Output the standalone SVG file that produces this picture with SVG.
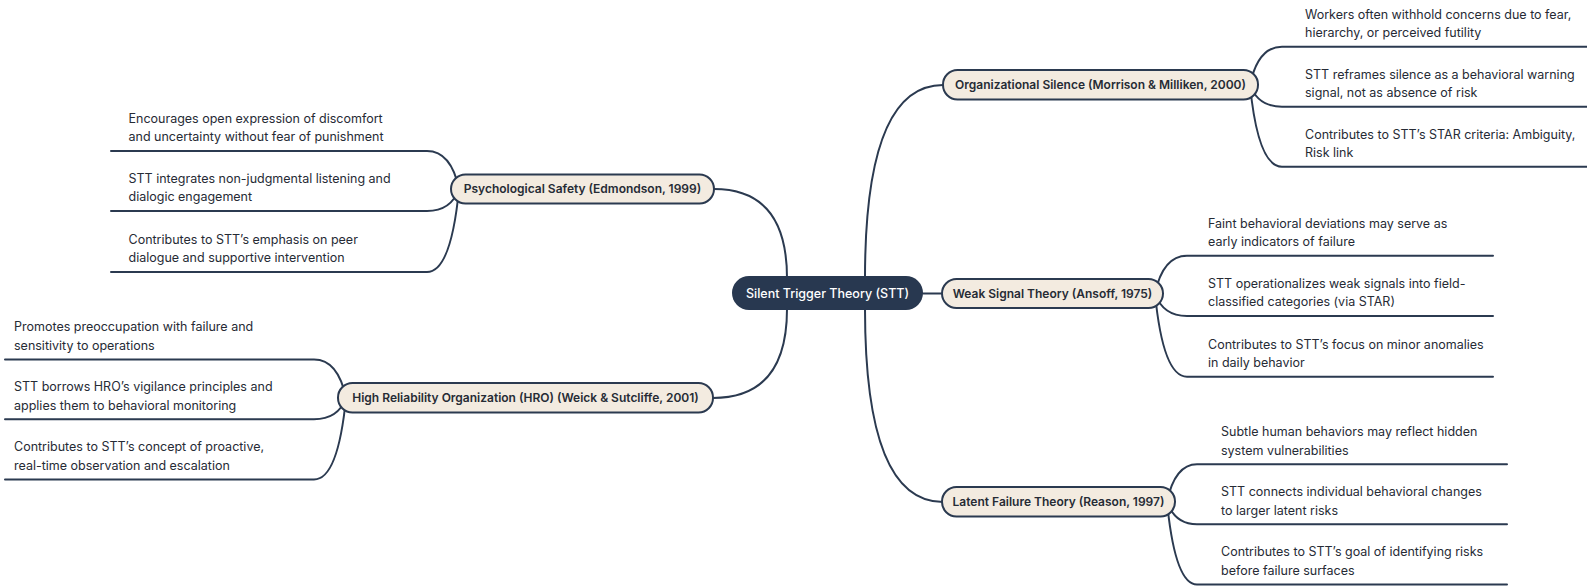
<svg xmlns="http://www.w3.org/2000/svg" width="1587" height="586" viewBox="0 0 1587 586">
<style>
.bg{fill:#ffffff}
.conn path{fill:none;stroke:#2b3a50;stroke-width:2;stroke-linecap:round}
.root rect{fill:#283850}
.root text{fill:#ffffff;font-family:Inter,"Liberation Sans",sans-serif;font-size:12.5px;font-weight:500;text-anchor:middle}
.main rect{fill:#f3ebe0;stroke:#2b3a50;stroke-width:2}
.main text{fill:#262b35;font-family:Inter,"Liberation Sans",sans-serif;font-size:12px;font-weight:600;text-anchor:middle}
.leaf text{fill:#262b35;font-family:Inter,"Liberation Sans",sans-serif;font-size:12.5px}
</style>
<rect class="bg" x="0" y="0" width="1587" height="586"/>
<g id="connectors" class="conn">
<path d="M787,278 Q787,189 714,189"/>
<path d="M787,309 Q787,398 713,398"/>
<path d="M865,278 Q865,85 943,85"/>
<path d="M923,293.5 L942,293.5"/>
<path d="M865,309 Q865,502 943,502"/>
<path d="M459,189 Q451,151 427,151 L111,151"/>
<path d="M459,189 Q451,211 427,211 L111,211"/>
<path d="M459,189 Q451,272 427,272 L111,272"/>
<path d="M346,398 Q338,359.5 314,359.5 L5,359.5"/>
<path d="M346,398 Q338,419.3 314,419.3 L5,419.3"/>
<path d="M346,398 Q338,479.5 314,479.5 L5,479.5"/>
<path d="M1250,85 Q1258,46.7 1282,46.7 L1590,46.7"/>
<path d="M1250,85 Q1258,106.7 1282,106.7 L1590,106.7"/>
<path d="M1250,85 Q1258,166.7 1282,166.7 L1590,166.7"/>
<path d="M1155,293.5 Q1163,255.7 1187,255.7 L1493,255.7"/>
<path d="M1155,293.5 Q1163,316 1187,316 L1493,316"/>
<path d="M1155,293.5 Q1163,376.7 1187,376.7 L1493,376.7"/>
<path d="M1167,501.7 Q1175,464.3 1197,464.3 L1507,464.3"/>
<path d="M1167,501.7 Q1175,524.3 1197,524.3 L1507,524.3"/>
<path d="M1167,501.7 Q1175,584.5 1197,584.5 L1507,584.5"/>
</g>
<g id="root" class="root">
<rect x="732" y="276" width="191" height="34" rx="17"/>
<text x="827.5" y="297.5">Silent Trigger Theory (STT)</text>
</g>
<g id="n-psych" class="main">
<rect x="451" y="174.5" width="263" height="29" rx="14.5"/>
<text x="582.5" y="193.2">Psychological Safety (Edmondson, 1999)</text>
</g>
<g id="n-hro" class="main">
<rect x="338" y="383" width="375" height="29.5" rx="14.5"/>
<text x="525.5" y="402">High Reliability Organization (HRO) (Weick &amp; Sutcliffe, 2001)</text>
</g>
<g id="n-org" class="main">
<rect x="943" y="70" width="315" height="29.5" rx="14.5"/>
<text x="1100.5" y="89.2">Organizational Silence (Morrison &amp; Milliken, 2000)</text>
</g>
<g id="n-weak" class="main">
<rect x="942" y="279" width="221" height="29" rx="14.5"/>
<text x="1052.5" y="297.7">Weak Signal Theory (Ansoff, 1975)</text>
</g>
<g id="n-latent" class="main">
<rect x="942" y="487" width="233" height="29.5" rx="14.5"/>
<text x="1058.5" y="506">Latent Failure Theory (Reason, 1997)</text>
</g>
<g id="leaves-psych" class="leaf">
<text x="128.5" y="122.9">Encourages open expression of discomfort</text>
<text x="128.5" y="141.2">and uncertainty without fear of punishment</text>
<text x="128.5" y="182.9">STT integrates non-judgmental listening and</text>
<text x="128.5" y="201.2">dialogic engagement</text>
<text x="128.5" y="243.9">Contributes to STT’s emphasis on peer</text>
<text x="128.5" y="262.2">dialogue and supportive intervention</text>
</g>
<g id="leaves-hro" class="leaf">
<text x="14" y="331.4">Promotes preoccupation with failure and</text>
<text x="14" y="349.7">sensitivity to operations</text>
<text x="14" y="391.2">STT borrows HRO’s vigilance principles and</text>
<text x="14" y="409.5">applies them to behavioral monitoring</text>
<text x="14" y="451.4">Contributes to STT’s concept of proactive,</text>
<text x="14" y="469.7">real-time observation and escalation</text>
</g>
<g id="leaves-org" class="leaf">
<text x="1305" y="18.6">Workers often withhold concerns due to fear,</text>
<text x="1305" y="36.9">hierarchy, or perceived futility</text>
<text x="1305" y="78.6">STT reframes silence as a behavioral warning</text>
<text x="1305" y="96.9">signal, not as absence of risk</text>
<text x="1305" y="138.6">Contributes to STT’s STAR criteria: Ambiguity,</text>
<text x="1305" y="156.9">Risk link</text>
</g>
<g id="leaves-weak" class="leaf">
<text x="1208" y="227.6">Faint behavioral deviations may serve as</text>
<text x="1208" y="245.9">early indicators of failure</text>
<text x="1208" y="287.9">STT operationalizes weak signals into field-</text>
<text x="1208" y="306.2">classified categories (via STAR)</text>
<text x="1208" y="348.6">Contributes to STT’s focus on minor anomalies</text>
<text x="1208" y="366.9">in daily behavior</text>
</g>
<g id="leaves-latent" class="leaf">
<text x="1221" y="436.2">Subtle human behaviors may reflect hidden</text>
<text x="1221" y="454.5">system vulnerabilities</text>
<text x="1221" y="496.2">STT connects individual behavioral changes</text>
<text x="1221" y="514.5">to larger latent risks</text>
<text x="1221" y="556.4">Contributes to STT’s goal of identifying risks</text>
<text x="1221" y="574.7">before failure surfaces</text>
</g>
</svg>
